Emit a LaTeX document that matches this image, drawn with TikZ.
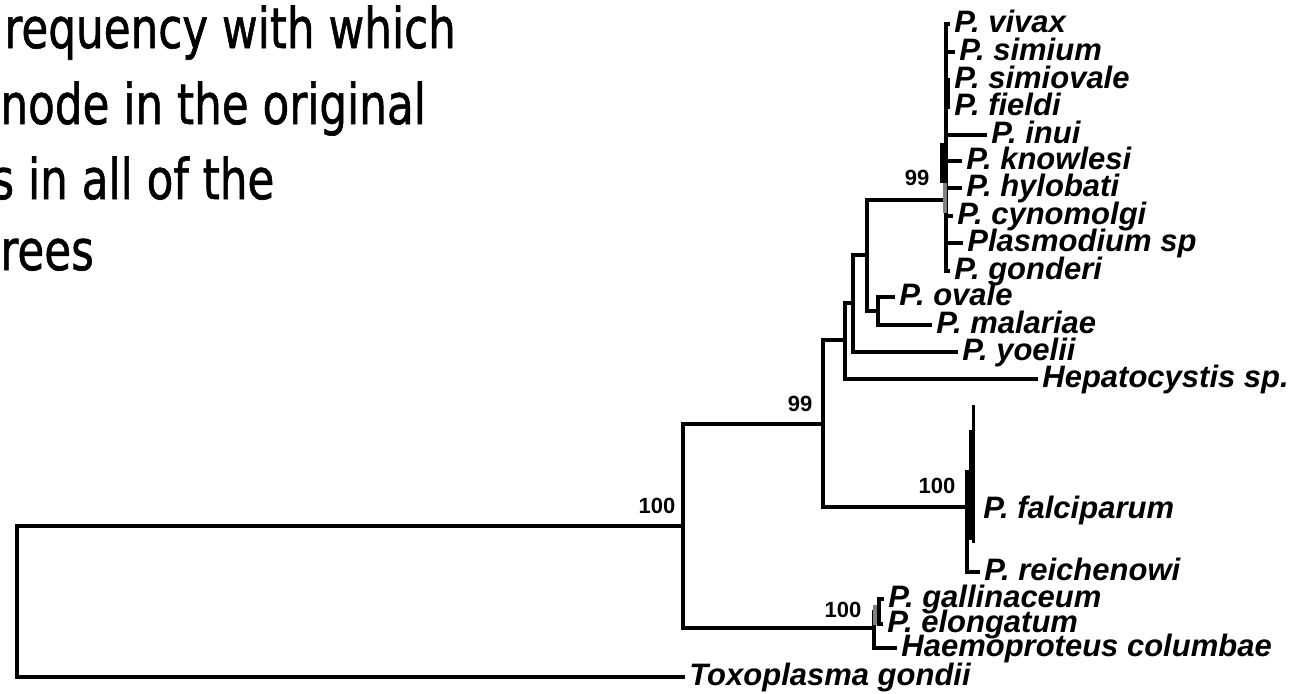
\documentclass[tikz,border=0pt]{standalone}
\usepackage{fontspec}
\setsansfont{Liberation Sans}
\newfontfamily\headfont[FakeBold=1.2]{DejaVu Sans}
\usetikzlibrary{positioning}
\tikzset{br/.style={line width=1.8pt},leaf/.style={anchor=west,inner xsep=2pt,inner ysep=0pt,text height=10.5pt,text depth=2.5pt,font=\sffamily\bfseries\itshape\fontsize{15.5}{15.5}\selectfont},boot/.style={inner sep=0pt,font=\sffamily\bfseries\fontsize{11}{11}\selectfont},head/.style={anchor=base west,inner sep=0pt,font=\headfont\fontsize{28}{28}\selectfont}}

\begin{document}
\begin{tikzpicture}[x=0.5pt,y=-0.5pt]
\useasboundingbox (0,0) rectangle (1306,693);
% heading, cut at the left edge
\node[head] (t1) at (4,48) {\scalebox{0.78}[1]{requency with which}};
\node[head] (t2) at (0,124) {\scalebox{0.78}[1]{node in the original}};
\node[head] (t3) at (-9,199) {\scalebox{0.78}[1]{s in all of the}};
\node[head] (t4) at (0,270) {\scalebox{0.78}[1]{rees}};
% internal nodes
\coordinate (root) at (17,601);
\coordinate (n1) at (683,526);
\coordinate (n2) at (823,424);
\coordinate (n3) at (845,340);
\coordinate (n4) at (853,303);
\coordinate (n5) at (867,255);
\coordinate (n6) at (946,200);
\coordinate (n7) at (878,311);
\coordinate (n8) at (967,507);
\coordinate (n9) at (874,628);
\coordinate (n10) at (879,612);
% leaves
\node[leaf] (vivax) at (950,24) {P. vivax};
\node[leaf] (simium) at (955,52) {P. simium};
\node[leaf] (simiovale) at (950,80) {P. simiovale};
\node[leaf] (fieldi) at (950,107) {P. fieldi};
\node[leaf] (inui) at (987,135) {P. inui};
\node[leaf] (knowlesi) at (962,161) {P. knowlesi};
\node[leaf] (hylobati) at (962,188) {P. hylobati};
\node[leaf] (cynomolgi) at (953,216) {P. cynomolgi};
\node[leaf] (plasmo) at (963,243) {Plasmodium sp};
\node[leaf] (gonderi) at (950,271) {P. gonderi};
\node[leaf] (ovale) at (895,297) {P. ovale};
\node[leaf] (malariae) at (932,325) {P. malariae};
\node[leaf] (yoelii) at (958,352) {P. yoelii};
\node[leaf] (hepato) at (1038,379) {Hepatocystis sp.};
\node[leaf] (falci) at (979,510) {P. falciparum};
\node[leaf] (reich) at (980,572) {P. reichenowi};
\node[leaf] (galli) at (884,599) {P. gallinaceum};
\node[leaf] (elong) at (883,624) {P. elongatum};
\node[leaf] (haemo) at (897,648) {Haemoproteus columbae};
\node[leaf] (toxo) at (685,677) {Toxoplasma gondii};
% bootstrap values
\node[boot] (b1) at (657,506) {100};
\node[boot] (b2) at (800,404) {99};
\node[boot] (b3) at (917,178) {99};
\node[boot] (b4) at (937,486) {100};
\node[boot] (b5) at (843,610) {100};
% branches
\draw[br] (root) |- (n1);
\draw[br] (root) |- (toxo.west);
\draw[br] (n1) |- (n2);
\draw[br] (n1) |- (n9);
\draw[br] (n2) |- (n3);
\draw[br] (n2) |- (n8);
\draw[br] (n3) |- (n4);
\draw[br] (n3) |- (hepato.west);
\draw[br] (n4) |- (n5);
\draw[br] (n4) |- (yoelii.west);
\draw[br] (n5) |- (n6);
\draw[br] (n5) |- (n7);
\draw[br] (n7) |- (ovale.west);
\draw[br] (n7) |- (malariae.west);
\foreach \t in {vivax,simium,simiovale,fieldi,inui,knowlesi,hylobati,cynomolgi,plasmo,gonderi}
  \draw[br] (n6) |- (\t.west);
\draw[br] (n8) |- (reich.west);
\draw[br] (n9) |- (n10);
\draw[br] (n9) |- (haemo.west);
\draw[br] (n10) |- (galli.west);
\draw[br] (n10) |- (elong.west);
% collapsed short branches
\fill (945,80) rectangle (950,107);
\fill (940,143) rectangle (947,183);
\fill[gray] (943,183) rectangle (947,213);
\fill[gray] (873,605) rectangle (877,625);
\draw[line width=1.5pt] (973,405) -- (973,543);
\draw[line width=1.5pt] (970,430) -- (970,540);
\fill (965,470) rectangle (971,520);
\end{tikzpicture}
\end{document}
